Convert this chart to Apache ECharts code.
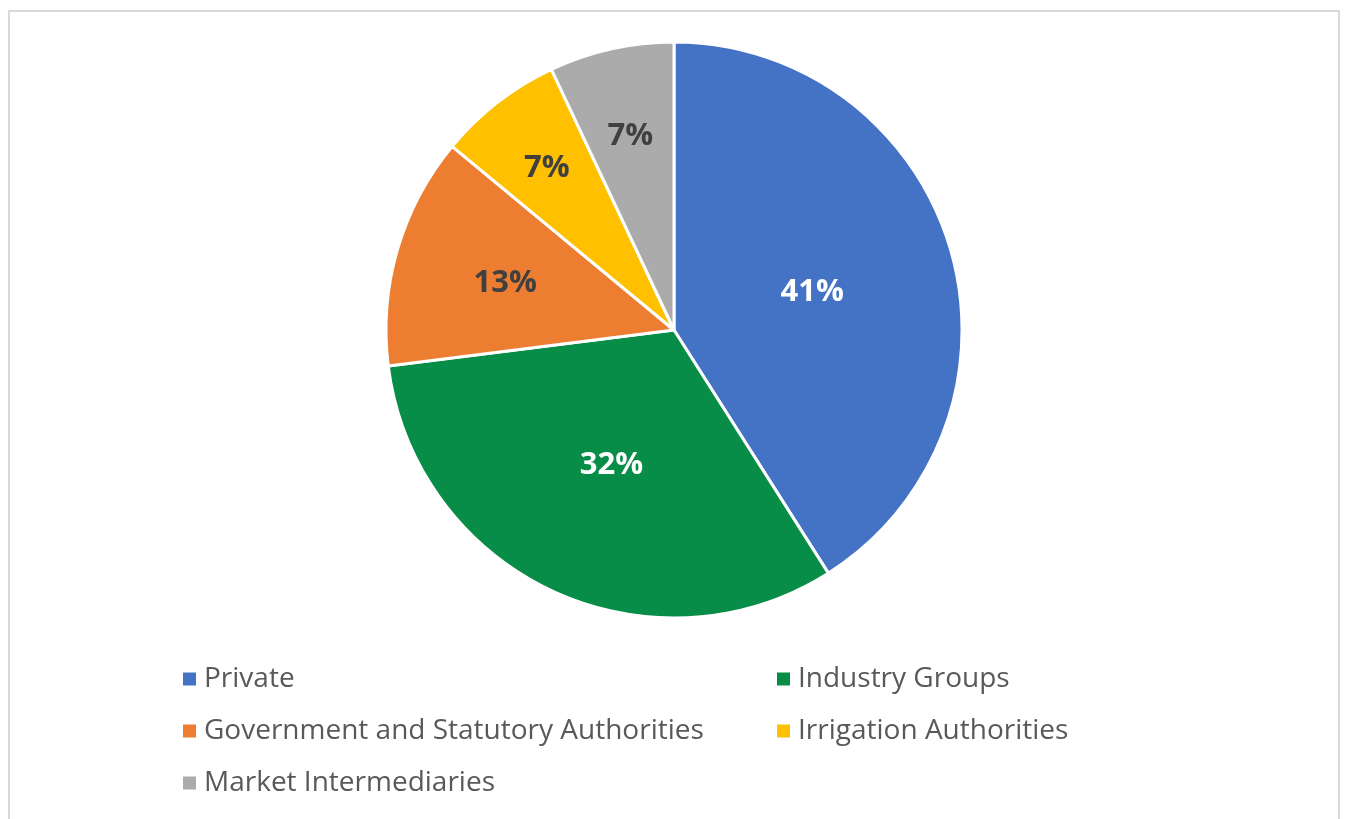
<!DOCTYPE html>
<html>
<head>
<meta charset="utf-8">
<style>
  html, body { margin: 0; padding: 0; background: #ffffff; }
  #chart { width: 1348px; height: 819px; }
</style>
<script src="https://cdn.jsdelivr.net/npm/echarts@6/dist/echarts.min.js"></script>
</head>
<body>
<div id="chart"></div>
<script>
// Share of participants by organisation type (percent)
const categories = [
  'Private',
  'Industry Groups',
  'Government and Statutory Authorities',
  'Irrigation Authorities',
  'Market Intermediaries'
];
const shares = [41, 32, 13, 7, 7];

const sliceColors = ['#4472C4', '#078D47', '#ED7D31', '#FFC000', '#ABABAB'];
const labelColors = ['#FFFFFF', '#FFFFFF', '#404040', '#404040', '#404040'];
// radial placement of each percent label, as a fraction of the radius
const labelRadius = [0.50, 0.51, 0.61, 0.72, 0.695];

const PIE_CX = 674, PIE_CY = 330, PIE_R = 288;
const FONT = '"Open Sans", "Noto Sans", sans-serif';

const chart = echarts.init(document.getElementById('chart'), null, { renderer: 'canvas' });

const pieData = categories.map((name, i) => ({
  name: name,
  value: shares[i],
  itemStyle: { color: sliceColors[i] },
  label: { color: labelColors[i] }
}));

const legendText = {
  color: '#595959',
  fontFamily: FONT,
  fontSize: 28,
  lineHeight: 30,
  padding: [0, 0, 0, 3]
};

function legendColumn(left, names) {
  return {
    orient: 'vertical',
    left: left,
    top: 659,
    icon: 'rect',
    itemWidth: 13,
    itemHeight: 13,
    itemGap: 22,
    selectedMode: false,
    itemStyle: { borderWidth: 0 },
    data: names,
    textStyle: legendText
  };
}

chart.setOption({
  backgroundColor: '#FFFFFF',
  animation: false,
  graphic: [{
    type: 'rect',
    shape: { x: 9, y: 11, width: 1330, height: 830 },
    style: { fill: 'none', stroke: '#D9D9D9', lineWidth: 2 },
    silent: true
  }],
  legend: [
    legendColumn(178, [categories[0], categories[2], categories[4]]),
    legendColumn(772, [categories[1], categories[3]])
  ],
  series: [{
    type: 'pie',
    center: [PIE_CX, PIE_CY],
    radius: PIE_R,
    startAngle: 90,
    clockwise: true,
    data: pieData,
    itemStyle: { borderColor: '#FFFFFF', borderWidth: 3 },
    label: {
      show: true,
      position: 'inside',
      formatter: '{c}%',
      fontFamily: FONT,
      fontWeight: 'bold',
      fontSize: 31
    },
    labelLine: { show: false },
    emphasis: { disabled: true },
    labelLayout: function (params) {
      const r = params.labelRect;
      const lx = r.x + r.width / 2;
      const ly = r.y + r.height / 2;
      const vx = lx - PIE_CX, vy = ly - PIE_CY;
      const d = Math.sqrt(vx * vx + vy * vy) || 1;
      const k = labelRadius[params.dataIndex] * PIE_R / d;
      return { dx: vx * (k - 1), dy: vy * (k - 1) + 2 };
    }
  }]
});
</script>
</body>
</html>
